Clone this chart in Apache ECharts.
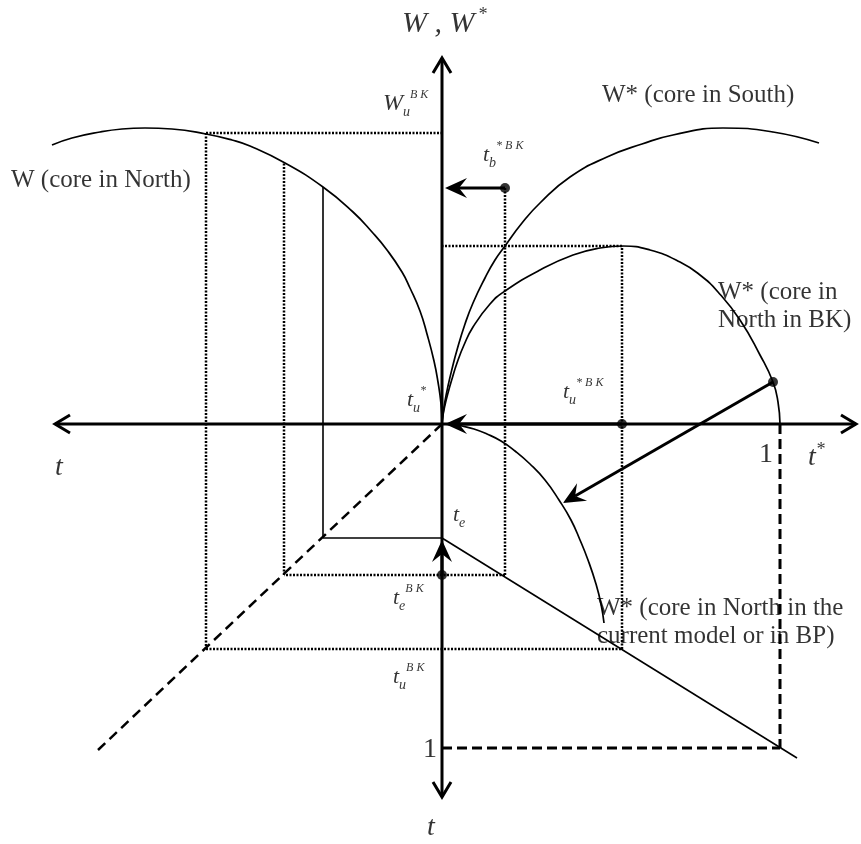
<!DOCTYPE html>
<html>
<head>
<meta charset="utf-8">
<title>W, W* diagram</title>
<script src="https://cdn.jsdelivr.net/npm/echarts@6/dist/echarts.min.js"></script>
<style>
    html, body {margin: 0; padding: 0; background: #fff;}
    #chart {width: 861px; height: 844px;}
</style>
</head>
<body>
<div id="chart"></div>
<script>
// curves (origin = crossing of the axes)
var wNorth = [[-390, 279], [-370, 286], [-342, 292], [-320, 295], [-297, 296], [-270, 295], [-236, 290],
    [-210, 284], [-192, 278], [-157, 261], [-119, 237], [-89, 212], [-70, 192], [-55, 174], [-40, 152],
    [-32, 136], [-22, 113], [-15, 90], [-8, 63], [-4, 42], [-1, 20], [0, 0]];
var wSouth = [[0, 0], [1, 10], [3, 23], [6, 38], [10, 55], [15, 74], [23, 100], [31, 121], [43, 146],
    [53, 164], [63, 178], [80, 201], [98, 221], [128, 247], [165, 267], [200, 280], [231, 289],
    [281, 296], [331, 292], [377, 281]];
var wNorthBK = [[0, 0], [1, 9], [3, 19], [6, 31], [10, 45], [15, 61], [22, 79], [31, 97], [48, 120],
    [63, 133], [98, 154], [131, 169], [158, 176], [181, 178], [208, 174], [238, 162], [258, 149],
    [276, 132], [298, 104], [318, 69], [331, 42], [336, 22], [338, 0]];
var wNorthBP = [[0, 0], [14, -1], [20, -2], [32, -5], [45, -10], [59, -17], [73, -27], [88, -40],
    [103, -56], [117, -76], [129, -96], [138, -116], [146, -136], [154, -160], [159, -180], [162, -199]];

// straight pieces [x1, y1, x2, y2]
var dottedSegs = [
    [-236, 291, 0, 291], [-236, 291, -236, -225], [-236, -225, 180, -225],
    [180, -225, 180, 178], [180, 178, 0, 178],
    [63, 236, 63, -151], [63, -151, -158, -151], [-158, -151, -158, 261]
];
var dashedSegs = [[338, 0, 338, -324], [0, -324, 338, -324]];
var diagSegs = [[0, 0, -344, -326]];
var thinSegs = [[-119, 237, -119, -114], [-119, -114, 0, -114], [0, -114, 355, -334]];
var axisArrows = [[0, 0, 0, 366], [0, 0, 0, -373], [0, 0, -387, 0], [0, 0, 414, 0]];
var pointerArrows = [[63, 236, 3, 236], [180, 0, 3, 0], [0, -151, 0, -116], [331, 42, 121, -79]];
var dots = [[63, 236], [180, 0], [331, 42], [0, -151]];

// text labels, anchored at their left-middle
var labels = [
    {value: [-40, 400], text: '{big|W , W} {bigsup|*}'},
    {value: [-59, 320], text: '{wi|W}{sub|u}{sup|B K}'},
    {value: [-431, 244], text: '{txt|W (core in North)}'},
    {value: [160, 329], text: '{txt|W* (core in South)}'},
    {value: [41, 269], text: '{ti|t}{sub|b}{sup|* B K}'},
    {value: [276, 118], text: '{txt|W* (core in}\n{txt|North in BK)}'},
    {value: [-35, 24], text: '{ti|t}{sub|u}{sup|*}'},
    {value: [121, 32], text: '{ti|t}{sub|u}{sup|* B K}'},
    {value: [-387, -44], text: '{tbig|t}'},
    {value: [317, -31], text: '{one|1}'},
    {value: [366, -34], text: '{tbig|t}{bigsup|*}'},
    {value: [11, -91], text: '{ti|t}{sub|e}'},
    {value: [-49, -174], text: '{ti|t}{sub|e}{sup|B K}'},
    {value: [-49, -253], text: '{ti|t}{sub|u}{sup|B K}'},
    {value: [155, -198], text: '{txt|W* (core in North in the}\n{txt|current model or in BP)}'},
    {value: [-19, -326], text: '{one|1}'},
    {value: [-15, -404], text: '{tbig|t}'}
];

var serif = '"Liberation Serif", "Times New Roman", serif';

function curve(data) {
    return {
        type: 'line', data: data, smooth: 0.5, showSymbol: false, silent: true,
        lineStyle: {color: '#000', width: 1.7}
    };
}

function segs(data, width, dash) {
    return {
        type: 'custom', data: data, silent: true, clip: false,
        renderItem: function (params, api) {
            var a = api.coord([api.value(0), api.value(1)]);
            var b = api.coord([api.value(2), api.value(3)]);
            return {
                type: 'line',
                shape: {x1: a[0], y1: a[1], x2: b[0], y2: b[1]},
                style: {stroke: '#000', lineWidth: width, lineDash: dash}
            };
        }
    };
}

function arrows(data, width, filled) {
    return {
        type: 'custom', data: data, silent: true, clip: false,
        renderItem: function (params, api) {
            var a = api.coord([api.value(0), api.value(1)]);
            var b = api.coord([api.value(2), api.value(3)]);
            var dx = b[0] - a[0], dy = b[1] - a[1];
            var len = Math.sqrt(dx * dx + dy * dy);
            var ux = dx / len, uy = dy / len, nx = -uy, ny = ux;
            var head;
            var end = b;
            if (filled) {
                var L = 22, W = 10, N = 14;
                end = [b[0] - ux * N, b[1] - uy * N];
                head = {
                    type: 'polygon',
                    shape: {points: [b, [b[0] - ux * L + nx * W, b[1] - uy * L + ny * W], end,
                        [b[0] - ux * L - nx * W, b[1] - uy * L - ny * W]]},
                    style: {fill: '#000'}
                };
            } else {
                var L2 = 15, W2 = 9;
                head = {
                    type: 'polyline',
                    shape: {points: [[b[0] - ux * L2 + nx * W2, b[1] - uy * L2 + ny * W2], b,
                        [b[0] - ux * L2 - nx * W2, b[1] - uy * L2 - ny * W2]]},
                    style: {stroke: '#000', lineWidth: width, fill: null}
                };
            }
            return {
                type: 'group',
                children: [{
                    type: 'line',
                    shape: {x1: a[0], y1: a[1], x2: end[0], y2: end[1]},
                    style: {stroke: '#000', lineWidth: width}
                }, head]
            };
        }
    };
}

function rt(size, italic, lh, va) {
    return {
        fontFamily: serif, fontStyle: italic ? 'italic' : 'normal', fontSize: size,
        lineHeight: lh, verticalAlign: va, color: '#000'
    };
}

var myChart = echarts.init(document.getElementById('chart'));

var option = {
    backgroundColor: '#fff',
    animation: false,
    grid: {left: 0, right: 0, top: 0, bottom: 0},
    xAxis: {type: 'value', min: -442, max: 419, show: false},
    yAxis: {type: 'value', min: -420, max: 424, show: false},
    series: [
        curve(wNorth),
        curve(wSouth),
        curve(wNorthBK),
        curve(wNorthBP),
        segs(dottedSegs, 2.5, [2, 1.5]),
        segs(dashedSegs, 3, [10, 5]),
        segs(diagSegs, 2.5, [10, 6]),
        segs(thinSegs, 1.6, null),
        arrows(axisArrows, 3, false),
        arrows(pointerArrows, 3, true),
        {
            type: 'scatter', data: dots, symbolSize: 10, silent: true,
            itemStyle: {color: '#000'}
        },
        {
            type: 'scatter', data: labels, symbolSize: 0, silent: true,
            label: {
                show: true,
                position: [0, 0],
                align: 'left',
                verticalAlign: 'middle',
                formatter: function (p) { return p.data.text; },
                color: '#000',
                rich: {
                    big: rt(30, true, 36, 'middle'),
                    bigsup: rt(18, true, 18, 'top'),
                    tbig: rt(28, true, 34, 'middle'),
                    wi: rt(24, true, 30, 'middle'),
                    ti: rt(22, true, 30, 'middle'),
                    sub: rt(14, true, 14, 'bottom'),
                    sup: rt(12, true, 12, 'top'),
                    txt: rt(25, false, 28, 'middle'),
                    one: rt(28, false, 30, 'middle')
                }
            }
        }
    ]
};

myChart.setOption(option);
</script>
</body>
</html>
